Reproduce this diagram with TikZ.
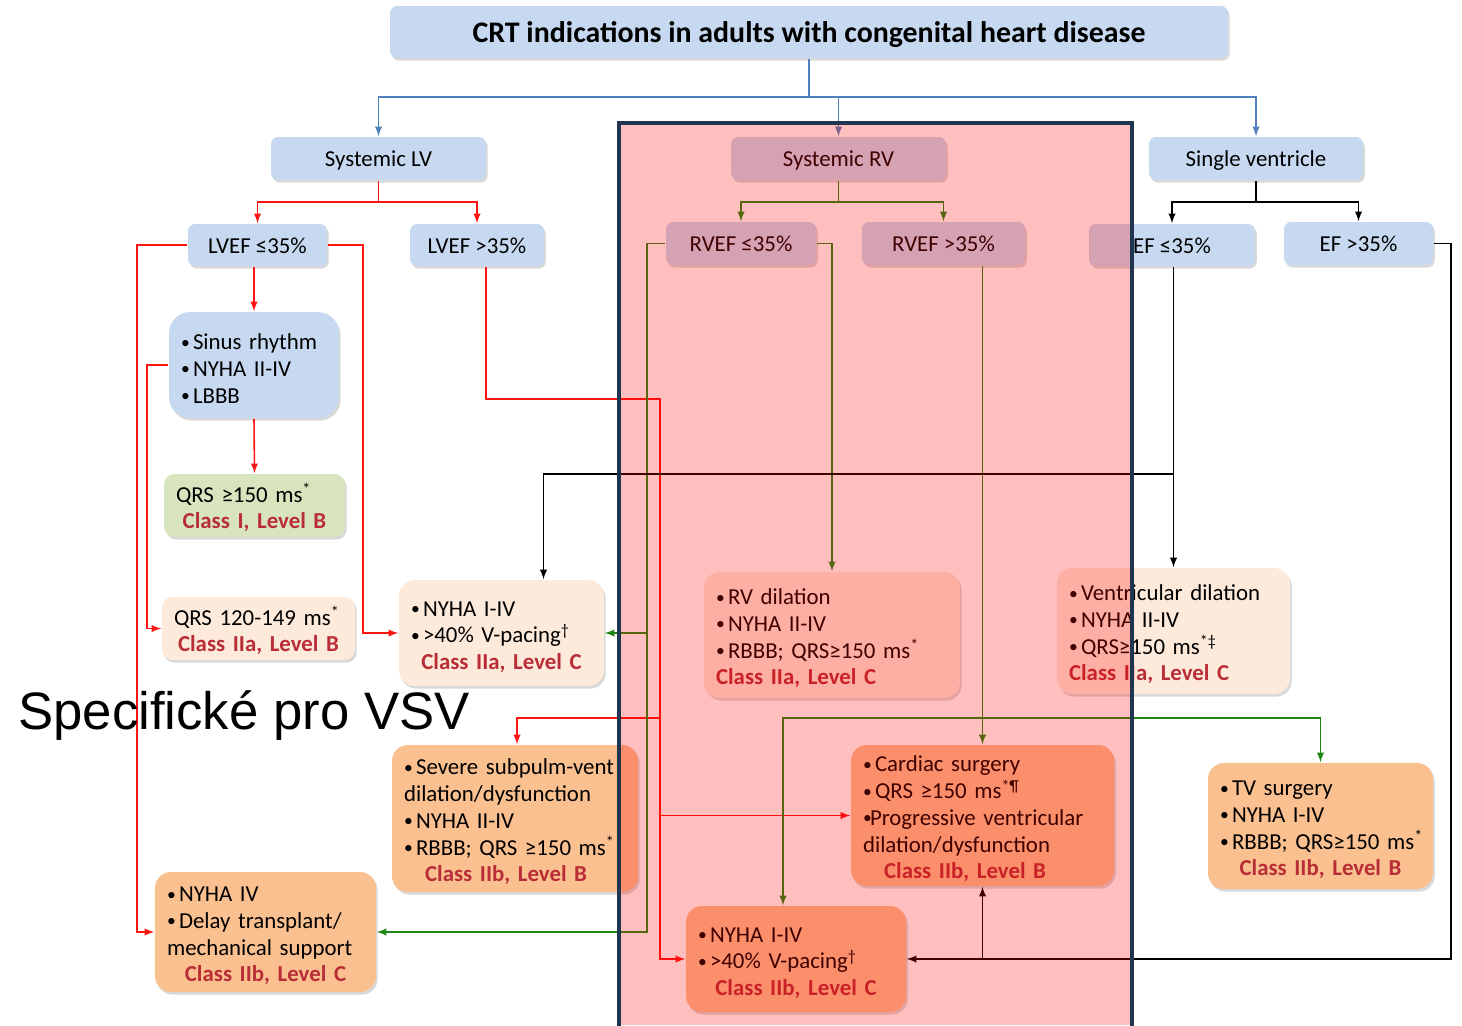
\documentclass[tikz,border=0pt]{standalone}
\usepackage{fontspec}
\setmainfont{Carlito}
\newfontfamily\arialfont{Liberation Sans}
\usetikzlibrary{shadows,calc}

\definecolor{hdrblue}{RGB}{198,217,240}
\definecolor{qgreen}{RGB}{215,228,189}
\definecolor{peachl}{RGB}{253,234,218}
\definecolor{peach}{RGB}{250,192,144}
\definecolor{clsred}{RGB}{185,45,55}
\definecolor{lnblue}{RGB}{79,129,189}
\definecolor{lnred}{RGB}{255,20,20}
\definecolor{lngreen}{RGB}{30,135,20}
\definecolor{framenavy}{RGB}{31,53,80}

\newcommand{\cls}[1]{\textcolor{clsred}{\bfseries #1}}
\newcommand{\clsc}[1]{\makebox[\linewidth][c]{\cls{#1}}}
\newcommand{\bl}[1][0.24cm]{\makebox[#1][l]{\raisebox{0.15ex}{\fontsize{10}{10}\selectfont•}}}

\begin{document}
\begin{tikzpicture}[x=0.02cm, y=-0.02cm, >=latex, line width=0.9pt,
    font=\fontsize{13}{15.2}\selectfont,
    shade/.style={drop shadow={shadow xshift=1pt, shadow yshift=-1.5pt, opacity=0.3}},
    hdr/.style={rectangle, rounded corners=4pt, fill=hdrblue, shade, inner sep=0pt,
        minimum height=0.86cm, text height=12.6pt, text depth=3.2pt},
    box/.style 2 args={rectangle, rounded corners=9pt, shade, align=left,
        inner xsep=0.24cm, inner ysep=0pt, text width=#1, minimum height=#2,
        execute at begin node=\rule{0pt}{13pt}}]

    \useasboundingbox (0,0) rectangle (1462,1025);

    % title and the three ventricle types
    \node[hdr, minimum width=16.76cm, minimum height=1.04cm, text height=16pt, text depth=4.2pt,
        font=\fontsize{17}{20}\selectfont\bfseries] (title) at (809,32)
        {CRT indications in adults with congenital heart disease};
    \node[hdr, minimum width=4.3cm] (sysLV) at (378.5,158.5) {Systemic LV};
    \node[hdr, minimum width=4.3cm] (sysRV) at (838.5,158.5) {Systemic RV};
    \node[hdr, minimum width=4.28cm] (single) at (1256,158.5) {Single ventricle};

    % ejection fraction
    \node[hdr, minimum width=2.78cm, minimum height=0.84cm] (lvefA) at (257.5,245) {LVEF ≤35\%};
    \node[hdr, minimum width=2.68cm, minimum height=0.84cm] (lvefB) at (477,245) {LVEF >35\%};
    \node[hdr, minimum width=3.0cm] (rvefA) at (741,243.5) {RVEF ≤35\%};
    \node[hdr, minimum width=3.26cm] (rvefB) at (943.5,243.5) {RVEF >35\%};
    \node[hdr, minimum width=3.32cm, minimum height=0.84cm] (efA) at (1172,245) {EF ≤35\%};
    \node[hdr, minimum width=2.98cm] (efB) at (1358.5,243.5) {EF >35\%};

    % criteria and recommendations
    \node[box={2.92cm}{2.12cm}, fill=hdrblue, rounded corners=12pt] (sinus) at (254,365)
        {\bl Sinus rhythm\\\bl NYHA II-IV\\\bl LBBB};
    \node[box={3.14cm}{1.26cm}, fill=qgreen, rounded corners=6pt] (qrsA) at (254.5,505.5)
        {QRS ≥150 ms\textsuperscript{*}\\\clsc{Class I, Level B}};
    \node[box={3.38cm}{1.26cm}, fill=peachl, rounded corners=6pt] (qrsB) at (258.5,628.5)
        {QRS 120-149 ms\textsuperscript{*}\\\clsc{Class IIa, Level B}};
    \node[box={3.62cm}{2.12cm}, fill=peachl] (pace) at (501.5,633)
        {\bl NYHA I-IV\\\bl >40\% V-pacing\textsuperscript{†}\\\clsc{Class IIa, Level C}};
    \node[box={4.64cm}{2.52cm}, fill=peachl] (rvdil) at (832,635)
        {\bl RV dilation\\\bl NYHA II-IV\\\bl RBBB; QRS≥150 ms\textsuperscript{*}\\\cls{Class IIa, Level C}};
    \node[box={4.18cm}{2.52cm}, fill=peachl] (vdil) at (1173.5,631)
        {\bl Ventricular dilation\\\bl NYHA II-IV\\\bl QRS≥150 ms\textsuperscript{*‡}\\\cls{Class IIa, Level C}};
    \node[box={4.44cm}{2.94cm}, fill=peach] (subpulm) at (515,818.5)
        {\bl Severe subpulm-vent\\dilation/dysfunction\\\bl NYHA II-IV\\\bl RBBB; QRS ≥150 ms\textsuperscript{*}\\\hspace*{12pt}\cls{Class IIb, Level B}};
    \node[box={4.78cm}{2.82cm}, fill=peach] (surg) at (982.5,815.5)
        {\bl Cardiac surgery\\\bl QRS ≥150 ms\textsuperscript{*¶}\\\bl[0.14cm]Progressive ventricular\\dilation/dysfunction\\\hspace*{12pt}\cls{Class IIb, Level B}};
    \node[box={4.02cm}{2.52cm}, fill=peach] (tvs) at (1320.5,826)
        {\bl TV surgery\\\bl NYHA I-IV\\\mbox{\bl RBBB; QRS≥150 ms\textsuperscript{*}}\\\clsc{Class IIb, Level B}};
    \node[box={3.94cm}{2.40cm}, fill=peach] (nyha4) at (265.5,932)
        {\bl NYHA IV\\\bl Delay transplant/\\mechanical support\\\clsc{Class IIb, Level C}};
    \node[box={3.92cm}{2.12cm}, fill=peach] (paceB) at (796,959)
        {\bl NYHA I-IV\\\bl >40\% V-pacing\textsuperscript{†}\\\clsc{Class IIb, Level C}};

    % first two levels
    \coordinate (tb) at (title.south |- 0,97);
    \draw[lnblue] (title.south) -- (tb);
    \foreach \n in {sysLV, sysRV, single}
        \draw[lnblue, ->] (tb) -| (\n.north);
    \foreach \p/\k/\col in {sysLV/lvefA/lnred, sysLV/lvefB/lnred,
            sysRV/rvefA/lngreen, sysRV/rvefB/lngreen,
            single/efA/black, single/efB/black}
        \draw[\col, ->] (\p.south) -- ++(0,21) -| (\k.north);

    % systemic LV
    \draw[lnred, ->] (sinus.north |- lvefA.south) -- (sinus.north);
    \draw[lnred, ->] (lvefA.west) -- ++(-50,0) |- (nyha4.west);
    \draw[lnred, ->] (lvefA.east) -- ++(35,0) |- (pace.west);
    \draw[lnred, ->] (sinus.south) -- (qrsA.north);
    \draw[lnred, ->] (sinus.west) -- ++(-21,0) |- (qrsB.west);
    \coordinate (rtop) at (660,399);
    \coordinate (rmid) at (660,718);
    \draw[lnred, ->] ($(lvefB.south)+(9,0)$) |- (rtop) |- (paceB.west);
    \draw[lnred, ->] (rtop |- surg.west) -- (surg.west);
    \draw[lnred, ->] (rmid) -| ($(subpulm.north)+(2,0)$);

    % systemic RV
    \coordinate (gbus) at ($(rvefA.west)+(-18,0)$);
    \draw[lngreen, ->] (rvefA.west) -- (gbus) |- (nyha4.east);
    \draw[lngreen, ->] (gbus |- pace.east) -- (pace.east);
    \draw[lngreen, ->] (rvefA.east) -| (rvdil.north);
    \draw[lngreen, ->] (surg.north |- rvefB.south) -- (surg.north);
    \coordinate (gsplit) at (surg.north |- 0,718);
    \draw[lngreen, ->] (gsplit) -| ($(paceB.north)+(-13,0)$);
    \draw[lngreen, ->] (gsplit) -| (tvs.north);

    % single ventricle
    \draw[->] (vdil.north |- efA.south) -- (vdil.north);
    \draw[->] (vdil.north |- 0,474) -| ($(pace.north)+(42,0)$);
    \draw[->] (efB.east) -- ++(17,0) |- (paceB.east);
    \draw[->] (surg.south |- paceB.east) -- (surg.south);

    % highlighted systemic RV column
    \fill[red, opacity=0.25] (619,123) rectangle (1132,1025);
    \draw[framenavy, line width=2.5pt] (619,1040) -- (619,123) -- (1132,123) -- (1132,1040);

    \node[font=\arialfont\fontsize{30}{32}\selectfont] (vsv) at (244,716) {Specifické pro VSV};

\end{tikzpicture}
\end{document}
